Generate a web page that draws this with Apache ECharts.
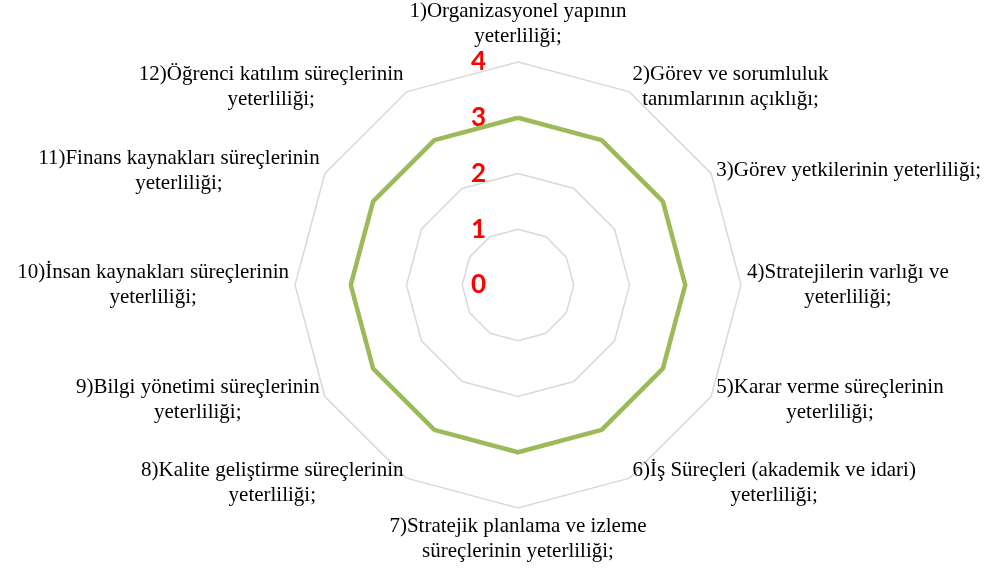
<!DOCTYPE html>
<html>
<head>
<meta charset="utf-8">
<script src="https://cdn.jsdelivr.net/npm/echarts@6/dist/echarts.min.js"></script>
<style>
  html, body { margin: 0; padding: 0; background: #ffffff; }
  #chart { width: 995px; height: 571px; }
</style>
</head>
<body>
<div id="chart"></div>
<script>
// Criteria (each name is split into the lines it is printed on)
const criteria = [
  ['1)Organizasyonel yapının', 'yeterliliği;'],
  ['2)Görev ve sorumluluk', 'tanımlarının açıklığı;'],
  ['3)Görev yetkilerinin yeterliliği;'],
  ['4)Stratejilerin varlığı ve', 'yeterliliği;'],
  ['5)Karar verme süreçlerinin', 'yeterliliği;'],
  ['6)İş Süreçleri (akademik ve idari)', 'yeterliliği;'],
  ['7)Stratejik planlama ve izleme', 'süreçlerinin yeterliliği;'],
  ['8)Kalite geliştirme süreçlerinin', 'yeterliliği;'],
  ['9)Bilgi yönetimi süreçlerinin', 'yeterliliği;'],
  ['10)İnsan kaynakları süreçlerinin', 'yeterliliği;'],
  ['11)Finans kaynakları süreçlerinin', 'yeterliliği;'],
  ['12)Öğrenci katılım süreçlerinin', 'yeterliliği;']
];

// Average score per criterion
const scores = [3.0, 3.0, 3.0, 3.0, 3.0, 3.0, 3.0, 3.0, 3.0, 3.0, 3.0, 3.0];

// Scale of the rings
const scaleMin = 0;
const scaleMax = 4;
const ringCount = 4;

// The radar lays its spokes out counter-clockwise; keep the first criterion
// on top and walk the rest backwards so they read clockwise.
const order = [0].concat(criteria.map(function (_, i) { return i; }).slice(1).reverse());

const indicators = order.map(function (idx, pos) {
  const item = { name: criteria[idx].join('\n'), min: scaleMin, max: scaleMax };
  if (pos === 0) {
    // scale numbers are printed along the first spoke only
    item.axisLabel = {
      show: true,
      showMinLabel: true,
      showMaxLabel: true,
      margin: 32,
      color: '#ff0000',
      fontFamily: 'Lato, "Open Sans", sans-serif',
      fontWeight: 'bold',
      fontSize: 26
    };
  }
  return item;
});
const orderedScores = order.map(function (idx) { return scores[idx]; });

const serifFont = '"Liberation Serif", "Times New Roman", serif';

const chart = echarts.init(document.getElementById('chart'), null, { renderer: 'canvas' });

chart.setOption({
  backgroundColor: '#ffffff',
  animation: false,
  radar: {
    center: [518, 285],
    radius: 223,
    startAngle: 90,
    shape: 'polygon',
    splitNumber: ringCount,
    axisName: {
      color: '#000000',
      fontFamily: serifFont,
      fontSize: 21,
      lineHeight: 25,
      formatter: function (name) {
        return name.split('\n').map(function (s) { return '{c|' + s + '}'; }).join('\n');
      },
      rich: {
        c: {
          align: 'center',
          color: '#000000',
          fontFamily: serifFont,
          fontSize: 21,
          lineHeight: 25
        }
      }
    },
    nameGap: 6,
    axisLine: { show: false },
    axisTick: { show: false },
    axisLabel: { show: false },
    splitLine: { lineStyle: { color: '#d9d9d9', width: 1.5 } },
    splitArea: { show: false },
    indicator: indicators
  },
  series: [{
    type: 'radar',
    symbol: 'none',
    lineStyle: { color: '#9bbb59', width: 4.5 },
    itemStyle: { color: '#9bbb59' },
    data: [{ value: orderedScores }]
  }]
});
</script>
</body>
</html>
